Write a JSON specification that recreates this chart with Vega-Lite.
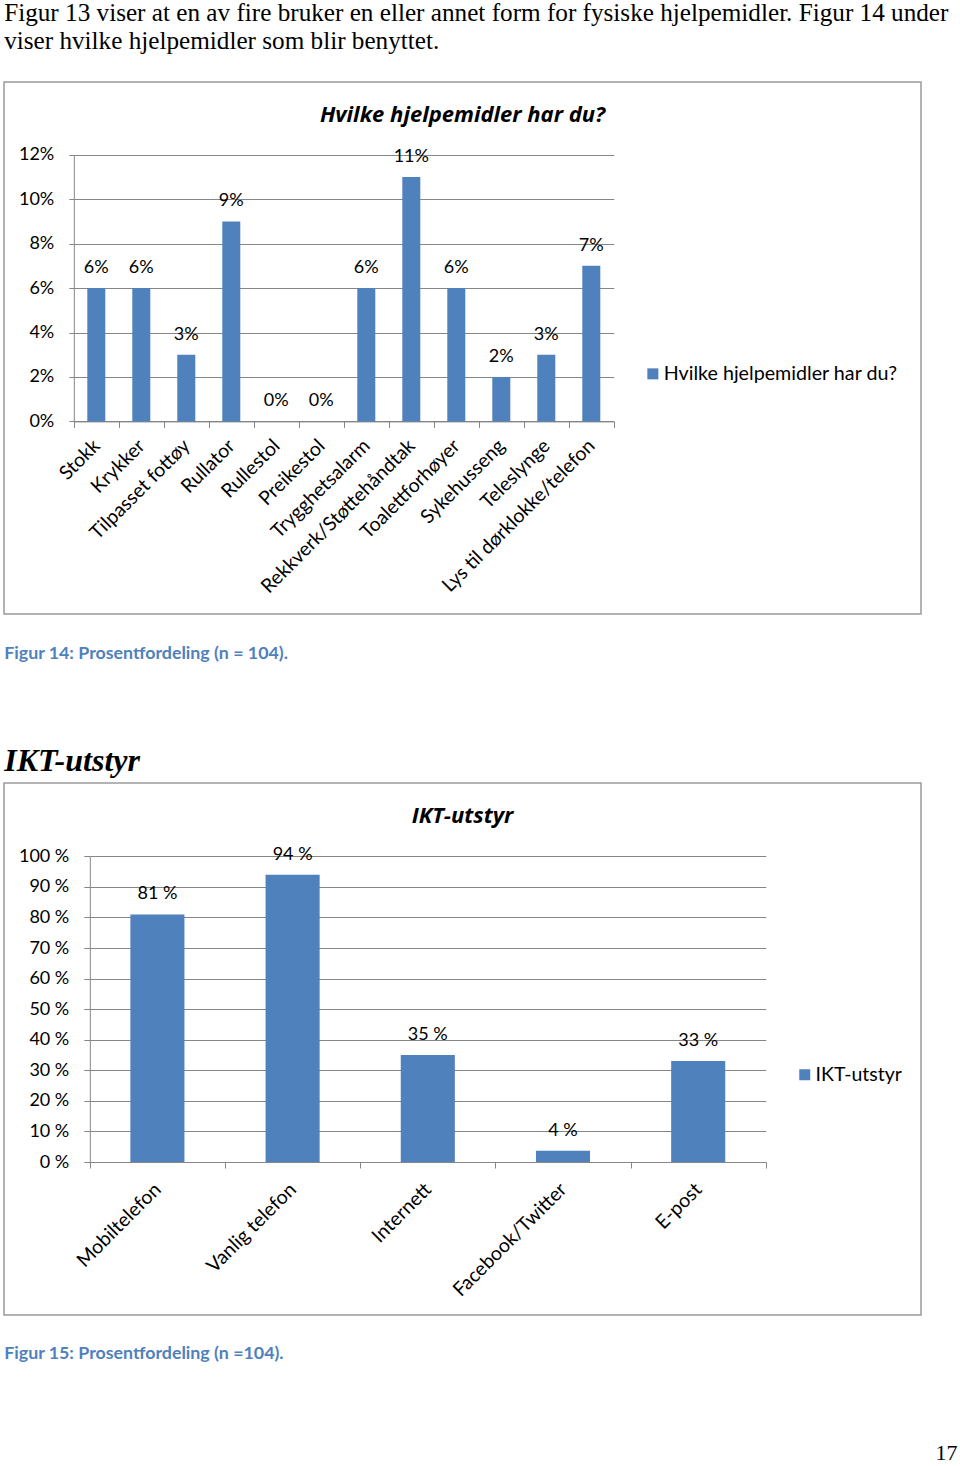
{
  "$schema": "https://vega.github.io/schema/vega-lite/v6.json",
  "background": "white",
  "padding": {"left": -4, "top": 1, "right": 3, "bottom": 0},
  "config": {
    "font": "Lato",
    "view": {"stroke": "#9a9a9a", "strokeWidth": 1.5},
    "axis": {"domainColor": "#868686", "tickColor": "#868686", "gridColor": "#868686", "domainWidth": 1, "tickWidth": 1, "gridWidth": 1, "labelColor": "#000000", "labelFont": "Lato", "labelFontSize": 18},
    "concat": {"spacing": 0}
  },
  "title": {"text": "17", "orient": "bottom", "anchor": "end", "baseline": "alphabetic", "offset": 97.5, "dx": 9, "font": "Liberation Serif", "fontSize": 22, "fontWeight": "normal", "color": "#000000"},
  "resolve": {"scale": {"color": "independent"}, "legend": {"color": "independent"}},
  "vconcat": [
    {
      "title": {"text": ["Figur 13 viser at en av fire bruker en eller annet form for fysiske hjelpemidler. Figur 14 under", "viser hvilke hjelpemidler som blir benyttet."], "orient": "top", "anchor": "start", "dx": 8, "font": "Liberation Serif", "fontSize": 25.2, "fontWeight": "normal", "lineHeight": 28, "color": "#000000", "offset": 26.8},
      "spacing": 81,
      "resolve": {"scale": {"color": "independent"}, "legend": {"color": "independent"}},
      "vconcat": [
        {
          "title": {"text": "Figur 14: Prosentfordeling (n = 104).", "orient": "bottom", "anchor": "start", "baseline": "alphabetic", "offset": 44, "dx": 8, "font": "Lato", "fontSize": 17.8, "fontWeight": "bold", "color": "#4F81BD"},
          "resolve": {"scale": {"color": "independent"}, "legend": {"color": "independent"}},
          "vconcat": [
            {
              "width": 917,
              "height": 532,
              "title": {"text": "Hvilke hjelpemidler har du?", "orient": "top", "anchor": "middle", "frame": "group", "baseline": "alphabetic", "offset": -61.5, "font": "Open Sans", "fontSize": 22, "fontWeight": "bold", "fontStyle": "italic", "color": "#000000"},
              "data": {"values": [
                {"hjelpemiddel": "Stokk", "andel": 0.06},
                {"hjelpemiddel": "Krykker", "andel": 0.06},
                {"hjelpemiddel": "Tilpasset fottøy", "andel": 0.03},
                {"hjelpemiddel": "Rullator", "andel": 0.09},
                {"hjelpemiddel": "Rullestol", "andel": 0.0},
                {"hjelpemiddel": "Preikestol", "andel": 0.0},
                {"hjelpemiddel": "Trygghetsalarm", "andel": 0.06},
                {"hjelpemiddel": "Rekkverk/Støttehåndtak", "andel": 0.11},
                {"hjelpemiddel": "Toalettforhøyer", "andel": 0.06},
                {"hjelpemiddel": "Sykehusseng", "andel": 0.02},
                {"hjelpemiddel": "Teleslynge", "andel": 0.03},
                {"hjelpemiddel": "Lys til dørklokke/telefon", "andel": 0.07}
              ]},
              "encoding": {
                "x": {"field": "hjelpemiddel", "type": "nominal", "sort": null,
                  "scale": {"range": [69.8, 609.8], "paddingInner": 0, "paddingOuter": 0},
                  "axis": {"title": null, "orient": "bottom", "offset": -192.6, "labelAngle": -45, "labelAlign": "right", "labelBaseline": "middle", "labelPadding": 15, "labelFontSize": 19.5, "tickSize": 6, "tickBand": "extent", "labelLimit": 400, "labelOverlap": false, "grid": false}},
                "y": {"field": "andel", "type": "quantitative",
                  "scale": {"domain": [0, 0.12], "range": [339.4, 72.7], "nice": false, "zero": true},
                  "axis": {"title": null, "orient": "left", "offset": -69.8, "values": [0, 0.02, 0.04, 0.06, 0.08, 0.1, 0.12], "format": ".0%", "tickSize": 5, "labelPadding": 15, "grid": true}}
              },
              "layer": [
                {"mark": {"type": "bar", "width": {"band": 0.4}},
                 "encoding": {"color": {"datum": "Hvilke hjelpemidler har du?", "type": "nominal", "scale": {"range": ["#4F81BD"]},
                   "legend": {"orient": "none", "legendX": 639, "legendY": 282, "title": null, "symbolType": "square", "symbolSize": 121, "symbolStrokeWidth": 0, "labelFontSize": 19.7, "labelFont": "Lato", "labelColor": "#000000", "labelOffset": 1, "padding": 0, "labelLimit": 400}}}},
                {"mark": {"type": "text", "baseline": "alphabetic", "dy": -15, "font": "Lato", "fontSize": 18, "color": "#000000"},
                 "encoding": {"text": {"field": "andel", "format": ".0%"}}}
              ]
            }
          ]
        },
        {
          "title": {"text": "IKT-utstyr", "orient": "top", "anchor": "start", "baseline": "alphabetic", "offset": -20.35, "dx": 8, "font": "Liberation Serif", "fontSize": 32, "fontWeight": "bold", "fontStyle": "italic", "color": "#000000"},
          "resolve": {"scale": {"color": "independent"}, "legend": {"color": "independent"}},
          "vconcat": [
            {
              "title": {"text": "Figur 15: Prosentfordeling (n =104).", "orient": "bottom", "anchor": "start", "baseline": "alphabetic", "offset": 43, "dx": 8, "font": "Lato", "fontSize": 17.8, "fontWeight": "bold", "color": "#4F81BD"},
              "resolve": {"scale": {"color": "independent"}, "legend": {"color": "independent"}},
              "vconcat": [
                {
                  "width": 917,
                  "height": 532,
                  "title": {"text": "IKT-utstyr", "orient": "top", "anchor": "middle", "frame": "group", "baseline": "alphabetic", "offset": -61.5, "font": "Open Sans", "fontSize": 22, "fontWeight": "bold", "fontStyle": "italic", "color": "#000000"},
                  "data": {"values": [
                    {"utstyr": "Mobiltelefon", "andel": 0.81, "etikett": "81 %"},
                    {"utstyr": "Vanlig telefon", "andel": 0.94, "etikett": "94 %"},
                    {"utstyr": "Internett", "andel": 0.35, "etikett": "35 %"},
                    {"utstyr": "Facebook/Twitter", "andel": 0.037, "etikett": "4 %"},
                    {"utstyr": "E-post", "andel": 0.33, "etikett": "33 %"}
                  ]},
                  "encoding": {
                    "x": {"field": "utstyr", "type": "nominal", "sort": null,
                      "scale": {"range": [85.8, 761.8], "paddingInner": 0, "paddingOuter": 0},
                      "axis": {"title": null, "orient": "bottom", "offset": -153, "labelAngle": -45, "labelAlign": "right", "labelBaseline": "middle", "labelPadding": 18, "labelFontSize": 19.5, "tickSize": 6, "tickBand": "extent", "labelLimit": 400, "labelOverlap": false, "grid": false}},
                    "y": {"field": "andel", "type": "quantitative",
                      "scale": {"domain": [0, 1], "range": [379, 73.3], "nice": false, "zero": true},
                      "axis": {"title": null, "orient": "left", "offset": -85.8, "values": [0, 0.1, 0.2, 0.3, 0.4, 0.5, 0.6, 0.7, 0.8, 0.9, 1], "format": ".0%", "labelExpr": "replace(datum.label, '%', ' %')", "tickSize": 6, "labelPadding": 15, "grid": true}}
                  },
                  "layer": [
                    {"mark": {"type": "bar", "width": {"band": 0.4}},
                     "encoding": {"color": {"datum": "IKT-utstyr", "type": "nominal", "scale": {"range": ["#4F81BD"]},
                       "legend": {"orient": "none", "legendX": 791, "legendY": 282, "title": null, "symbolType": "square", "symbolSize": 121, "symbolStrokeWidth": 0, "labelFontSize": 19.5, "labelFont": "Lato", "labelColor": "#000000", "labelOffset": 1, "padding": 0, "labelLimit": 400}}}},
                    {"mark": {"type": "text", "baseline": "alphabetic", "dy": -15, "font": "Lato", "fontSize": 18, "color": "#000000"},
                     "encoding": {"text": {"field": "etikett"}}}
                  ]
                }
              ]
            }
          ]
        }
      ]
    }
  ]
}
